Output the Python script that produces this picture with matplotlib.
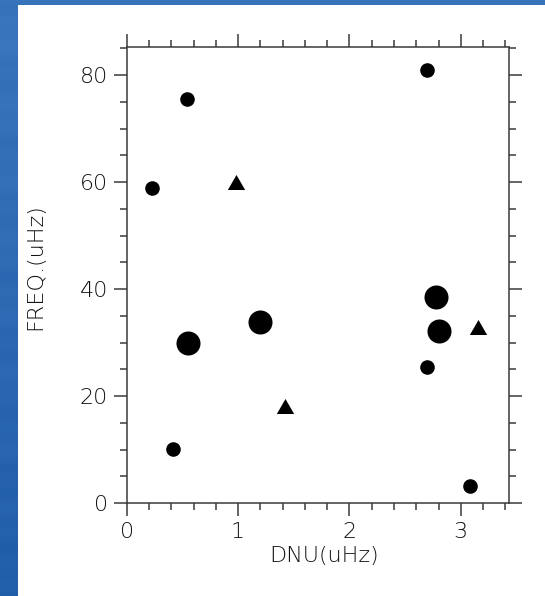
import matplotlib
matplotlib.use("Agg")
import matplotlib.pyplot as plt
import numpy as np
from matplotlib.patches import Rectangle
from matplotlib.ticker import MultipleLocator

# Mode spacing (DNU) vs frequency, both in uHz
small_dnu = [0.23, 0.54, 0.42, 2.70, 2.70, 3.08]
small_freq = [58.9, 75.6, 10.1, 81.0, 25.5, 3.2]

large_dnu = [0.55, 1.20, 2.78, 2.80]
large_freq = [29.9, 33.8, 38.6, 32.1]

tri_dnu = [0.98, 1.42, 3.15]
tri_freq = [59.9, 18.0, 32.8]

x_ticks = [0, 1, 2, 3]
y_ticks = [0, 20, 40, 60, 80]

plt.rcParams['font.family'] = ['DejaVu Sans']
text_color = '#111111'
axis_color = '#3a3a3a'

fig = plt.figure(figsize=(5.45, 5.96), dpi=100)
fig.patch.set_facecolor('#2b69b1')

# blue backdrop, slightly lighter at the top, with faint horizontal streaks
bg = fig.add_axes([0, 0, 1, 1], zorder=-10)
rows = np.linspace(0, 1, 300)
streak = np.sin(rows * 97.0) * np.cos(rows * 41.0)
top = np.array([0.22, 0.46, 0.74])
bottom = np.array([0.13, 0.37, 0.66])
col = bottom[None, :] + rows[:, None] * (top - bottom)[None, :] \
    + streak[:, None] * 0.012
bg.imshow(np.repeat(col[:, None, :], 4, axis=1).clip(0, 1), aspect='auto',
          extent=[0, 1, 0, 1], interpolation='bilinear', origin='lower')
bg.add_patch(Rectangle((17.5 / 545, 0), 1, 1 - 5 / 596, facecolor='white',
                       edgecolor='none', transform=bg.transAxes))
bg.set_xlim(0, 1)
bg.set_ylim(0, 1)
bg.axis('off')

ax = fig.add_axes([126.7 / 545, 1 - 503 / 596, (508.7 - 126.7) / 545,
                   (503 - 46.7) / 596])
ax.set_facecolor('none')

tri = [(-1, -0.75), (1, -0.75), (0, 0.98), (-1, -0.75)]
ax.plot(small_dnu, small_freq, 'o', color='black', markersize=10.5,
        markeredgewidth=0, linestyle='none')
ax.plot(large_dnu, large_freq, 'o', color='black', markersize=17.3,
        markeredgewidth=0, linestyle='none')
ax.plot(tri_dnu, tri_freq, marker=tri, color='black', markersize=12.5,
        markeredgewidth=0, linestyle='none')

ax.set_xlim(0, 3.43)
ax.set_ylim(0, 85.3)
ax.set_xticks(x_ticks)
ax.set_yticks(y_ticks)
ax.xaxis.set_minor_locator(MultipleLocator(0.2))
ax.yaxis.set_minor_locator(MultipleLocator(5))

for s in ax.spines.values():
    s.set_color(axis_color)
    s.set_linewidth(1.1)

ax.tick_params(which='both', direction='out', color=axis_color, width=1.1,
               top=True, right=True, labeltop=False, labelright=False)
ax.tick_params(which='major', length=9.5, labelsize=16, labelcolor=text_color,
               pad=4)
ax.tick_params(which='minor', length=5)

ax.set_xlabel('DNU(uHz)', fontsize=16, color=text_color, fontweight='light')
ax.set_ylabel('FREQ.(uHz)', fontsize=16, color=text_color, fontweight='light')
ax.xaxis.set_label_coords(0.516, -0.095)
ax.yaxis.set_label_coords(-0.214, 0.519)
for lab in ax.get_xticklabels() + ax.get_yticklabels():
    lab.set_fontweight('light')

fig.savefig('out.png', dpi=100)
